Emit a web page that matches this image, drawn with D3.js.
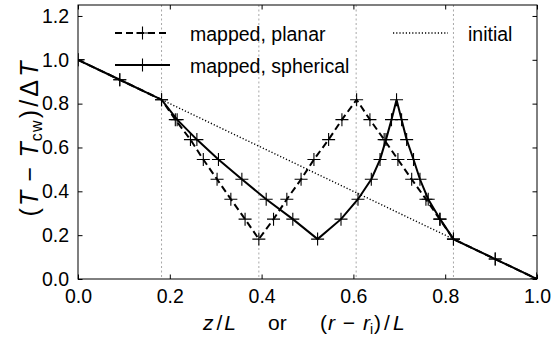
<!DOCTYPE html>
<html><head><meta charset="utf-8">
<script src="https://cdn.jsdelivr.net/npm/d3@7/dist/d3.min.js"></script>
<style>body{margin:0;background:#fff}svg{display:block}</style>
</head><body><svg id="c" width="560" height="338"></svg>
<script>
// ---- data ----
const planarX = [0.0, 0.091, 0.182, 0.212, 0.245, 0.273, 0.303, 0.333, 0.364, 0.394,
                 0.426, 0.455, 0.486, 0.514, 0.546, 0.575, 0.607,
                 0.636, 0.667, 0.697, 0.727, 0.758, 0.788, 0.818, 0.909, 1.0];
const planarY = [1.0, 0.909, 0.818, 0.727, 0.636, 0.545, 0.455, 0.364, 0.273, 0.182,
                 0.273, 0.364, 0.455, 0.545, 0.636, 0.727, 0.818,
                 0.727, 0.636, 0.545, 0.455, 0.364, 0.273, 0.182, 0.091, 0.0];
const sphericalX = [0.0, 0.091, 0.182, 0.216, 0.259, 0.306, 0.357, 0.410, 0.468, 0.522,
                    0.573, 0.610, 0.639, 0.658, 0.671, 0.683, 0.694,
                    0.705, 0.716, 0.731, 0.745, 0.763, 0.789, 0.818, 0.909, 1.0];
const sphericalY = [1.0, 0.909, 0.818, 0.727, 0.636, 0.545, 0.455, 0.364, 0.273, 0.182,
                    0.273, 0.364, 0.455, 0.545, 0.636, 0.727, 0.818,
                    0.727, 0.636, 0.545, 0.455, 0.364, 0.273, 0.182, 0.091, 0.0];
const initialX = [0.0, 1.0];
const initialY = [1.0, 0.0];
const boundaryX = [0.182, 0.394, 0.606, 0.818];
const xTicks = [0.0, 0.2, 0.4, 0.6, 0.8, 1.0];
const yTicks = [0.0, 0.2, 0.4, 0.6, 0.8, 1.0, 1.2];
const legendLabels = ["mapped, planar", "mapped, spherical", "initial"];

// ---- layout ----
const FONT = "'Liberation Sans', Arial, sans-serif";
const svg = d3.select("#c");
const L = 78, R = 537, T = 5, B = 279;
const x = d3.scaleLinear().domain([0, 1]).range([L, R]);
const y = d3.scaleLinear().domain([0, 1.25]).range([B, T]);

svg.append("defs").append("clipPath").attr("id", "clip")
  .append("rect").attr("x", L).attr("y", T).attr("width", R - L).attr("height", B - T);

const plot = svg.append("g").attr("clip-path", "url(#clip)");

// boundary lines
plot.selectAll("line.bnd").data(boundaryX).join("line")
  .attr("class", "bnd")
  .attr("x1", d => x(d)).attr("x2", d => x(d))
  .attr("y1", T).attr("y2", B)
  .attr("stroke", "#a8a8a8").attr("stroke-width", 1)
  .attr("stroke-dasharray", "2,2.5");

const line = d3.line().x(d => x(d[0])).y(d => y(d[1]));
const planar = planarX.map((v, i) => [v, planarY[i]]);
const spherical = sphericalX.map((v, i) => [v, sphericalY[i]]);
const initial = initialX.map((v, i) => [v, initialY[i]]);

const MS = 6.5;
function plus(g, pts) {
  g.selectAll("path.m").data(pts).join("path").attr("class", "m")
    .attr("d", d => `M${x(d[0]) - MS},${y(d[1])}H${x(d[0]) + MS}M${x(d[0])},${y(d[1]) - MS}V${y(d[1]) + MS}`)
    .attr("stroke", "#000").attr("stroke-width", 1.1).attr("fill", "none");
}

plot.append("path").datum(initial).attr("d", line)
  .attr("fill", "none").attr("stroke", "#000").attr("stroke-width", 1.4)
  .attr("stroke-dasharray", "1.2,2");

plot.append("path").datum(planar).attr("d", line)
  .attr("fill", "none").attr("stroke", "#000").attr("stroke-width", 2)
  .attr("stroke-dasharray", "7,4");
plus(plot.append("g"), planar);

plot.append("path").datum(spherical).attr("d", line)
  .attr("fill", "none").attr("stroke", "#000").attr("stroke-width", 2);
plus(plot.append("g"), spherical);

// axes (ticks inward on all sides)
const TL = 4.5;
const axB = svg.append("g").attr("transform", `translate(0,${B})`)
  .call(d3.axisBottom(x).tickValues(xTicks).tickFormat(d3.format(".1f")).tickSizeInner(-TL).tickSizeOuter(0).tickPadding(12));
const axT = svg.append("g").attr("transform", `translate(0,${T})`)
  .call(d3.axisTop(x).tickValues(xTicks).tickFormat("").tickSizeInner(-TL).tickSizeOuter(0));
const axL = svg.append("g").attr("transform", `translate(${L},0)`)
  .call(d3.axisLeft(y).tickValues(yTicks).tickFormat(d3.format(".1f")).tickSizeInner(-TL).tickSizeOuter(0).tickPadding(9));
const axR = svg.append("g").attr("transform", `translate(${R},0)`)
  .call(d3.axisRight(y).tickValues(yTicks).tickFormat("").tickSizeInner(-TL).tickSizeOuter(0));
[axB, axT, axL, axR].forEach(a => {
  a.select(".domain").remove();
  a.selectAll(".tick line").attr("stroke", "#000").attr("stroke-width", 1);
  a.selectAll("text").attr("font-family", FONT).attr("font-size", 19.5).attr("fill", "#000");
});
axB.selectAll("text").attr("dy", "0.71em").attr("y", 10);
// frame
svg.append("rect").attr("x", L).attr("y", T).attr("width", R - L).attr("height", B - T)
  .attr("fill", "none").attr("stroke", "#000").attr("stroke-width", 1);

// legend
const leg = svg.append("g");
const legItems = [
  {label: legendLabels[0], x0: 115, yy: 33, dash: "7,4", w: 2, marker: true},
  {label: legendLabels[1], x0: 115, yy: 65, dash: null, w: 2, marker: true},
  {label: legendLabels[2], x0: 393, yy: 33, dash: "1.2,2", w: 1.4, marker: false}
];
legItems.forEach(it => {
  leg.append("line").attr("x1", it.x0).attr("x2", it.x0 + 55).attr("y1", it.yy).attr("y2", it.yy)
    .attr("stroke", "#000").attr("stroke-width", it.w).attr("stroke-dasharray", it.dash);
  if (it.marker) {
    const cx = it.x0 + 27.5;
    leg.append("path").attr("d", `M${cx - MS},${it.yy}H${cx + MS}M${cx},${it.yy - MS}V${it.yy + MS}`)
      .attr("stroke", "#000").attr("stroke-width", 1.1);
  }
  leg.append("text").attr("x", it.x0 + 75).attr("y", it.yy + 8)
    .attr("font-family", FONT).attr("font-size", 19.5).text(it.label);
});

// y label
const yl = svg.append("text").attr("transform", "translate(38,139) rotate(-90)")
  .attr("text-anchor", "middle").attr("font-family", FONT).attr("font-size", 25);
yl.append("tspan").text("(");
yl.append("tspan").attr("font-style", "italic").attr("dx", 1).text("T");
yl.append("tspan").text(" − ");
yl.append("tspan").attr("font-style", "italic").text("T");
yl.append("tspan").attr("font-size", 16).attr("dy", 4).text("cw");
yl.append("tspan").attr("dy", -4).attr("dx", 1).text(")");
yl.append("tspan").attr("dx", 2).text("/");
yl.append("tspan").attr("dx", 2).text("Δ");
yl.append("tspan").attr("font-style", "italic").attr("dx", 2).text("T");
{
  const w = yl.node().getComputedTextLength();
  if (w < 155) yl.attr("textLength", 155).attr("lengthAdjust", "spacing");
}

// x label
const xl = svg.append("g").attr("font-family", FONT).attr("font-size", 21);
const t1 = xl.append("text").attr("x", 203).attr("y", 330);
t1.append("tspan").attr("font-style", "italic").text("z");
t1.append("tspan").attr("dx", 3).text("/");
t1.append("tspan").attr("dx", 2).attr("font-style", "italic").text("L");
xl.append("text").attr("x", 268).attr("y", 330).text("or");
const t3 = xl.append("text").attr("x", 320).attr("y", 330);
t3.append("tspan").text("(");
t3.append("tspan").attr("font-style", "italic").attr("dx", 1).text("r");
t3.append("tspan").attr("dx", 2).text(" − ");
t3.append("tspan").attr("dx", 2).attr("font-style", "italic").text("r");
t3.append("tspan").attr("font-size", 14).attr("dy", 4).text("i");
t3.append("tspan").attr("dy", -4).attr("dx", 1).text(")");
t3.append("tspan").attr("dx", 3).text("/");
t3.append("tspan").attr("dx", 3).attr("font-style", "italic").text("L");
</script></body></html>
